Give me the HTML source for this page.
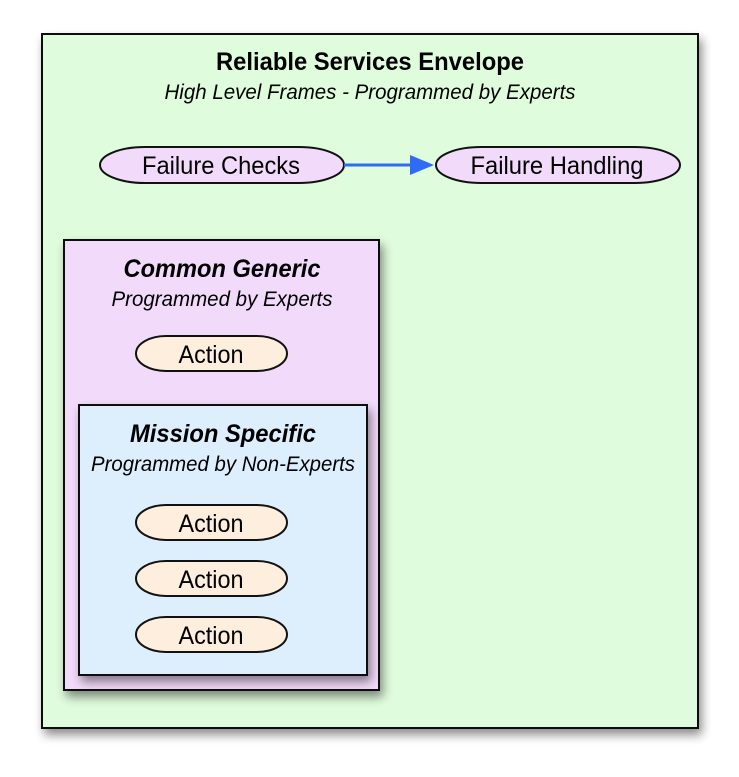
<!DOCTYPE html>
<html><head><meta charset="utf-8"><style>html,body{margin:0;padding:0;background:#fff;width:739px;height:777px;overflow:hidden}</style></head>
<body>
<svg width="739" height="777" xmlns="http://www.w3.org/2000/svg" font-family="Liberation Sans, sans-serif">
<defs>
<filter id="sh" x="-10%" y="-10%" width="130%" height="130%"><feGaussianBlur in="SourceAlpha" stdDeviation="5"/><feOffset dx="3" dy="6"/><feComponentTransfer><feFuncA type="linear" slope="0.45"/></feComponentTransfer><feMerge><feMergeNode/><feMergeNode in="SourceGraphic"/></feMerge></filter>
</defs>
<rect x="42" y="34" width="656" height="694" fill="#dffcdc" stroke="#111" stroke-width="2" filter="url(#sh)"/>
<text x="370" y="70" text-anchor="middle" font-size="25" font-weight="bold" textLength="308" lengthAdjust="spacingAndGlyphs">Reliable Services Envelope</text>
<text x="370" y="99" text-anchor="middle" font-size="21" font-style="italic" textLength="411" lengthAdjust="spacingAndGlyphs">High Level Frames - Programmed by Experts</text>
<rect x="100" y="147" width="244" height="36" rx="45" ry="18" fill="#f2dafa" stroke="#111" stroke-width="2"/>
<text x="221" y="174" text-anchor="middle" font-size="25" textLength="158" lengthAdjust="spacingAndGlyphs">Failure Checks</text>
<rect x="436" y="147" width="244" height="36" rx="45" ry="18" fill="#f2dafa" stroke="#111" stroke-width="2"/>
<text x="557" y="174" text-anchor="middle" font-size="25" textLength="173" lengthAdjust="spacingAndGlyphs">Failure Handling</text>
<line x1="344" y1="165" x2="412" y2="165" stroke="#2f6bf5" stroke-width="3"/>
<polygon points="410,155 434,165 410,175" fill="#2f6bf5"/>
<rect x="64" y="240" width="315" height="450" fill="#f2dafa" stroke="#111" stroke-width="2" filter="url(#sh)"/>
<text x="222" y="277" text-anchor="middle" font-size="25" font-weight="bold" font-style="italic" textLength="197" lengthAdjust="spacingAndGlyphs">Common Generic</text>
<text x="222" y="306" text-anchor="middle" font-size="21" font-style="italic" textLength="221" lengthAdjust="spacingAndGlyphs">Programmed by Experts</text>
<g fill="#fdeedd" stroke="#111" stroke-width="2">
<rect x="136" y="336" width="151" height="35" rx="30" ry="17.5"/>
<rect x="136" y="505" width="151" height="35" rx="30" ry="17.5"/>
<rect x="136" y="561" width="151" height="35" rx="30" ry="17.5"/>
<rect x="136" y="617" width="151" height="35" rx="30" ry="17.5"/>
</g>
<text x="211" y="363" text-anchor="middle" font-size="25" textLength="65" lengthAdjust="spacingAndGlyphs">Action</text>
<rect x="79" y="405" width="288" height="270" fill="#ddeefd" stroke="#111" stroke-width="2" filter="url(#sh)"/>
<text x="223" y="442" text-anchor="middle" font-size="25" font-weight="bold" font-style="italic" textLength="186" lengthAdjust="spacingAndGlyphs">Mission Specific</text>
<text x="223" y="471" text-anchor="middle" font-size="21" font-style="italic" textLength="264" lengthAdjust="spacingAndGlyphs">Programmed by Non-Experts</text>
<g fill="#fdeedd" stroke="#111" stroke-width="2">
<rect x="136" y="505" width="151" height="35" rx="30" ry="17.5"/>
<rect x="136" y="561" width="151" height="35" rx="30" ry="17.5"/>
<rect x="136" y="617" width="151" height="35" rx="30" ry="17.5"/>
</g>
<text x="211" y="532" text-anchor="middle" font-size="25" textLength="65" lengthAdjust="spacingAndGlyphs">Action</text>
<text x="211" y="588" text-anchor="middle" font-size="25" textLength="65" lengthAdjust="spacingAndGlyphs">Action</text>
<text x="211" y="644" text-anchor="middle" font-size="25" textLength="65" lengthAdjust="spacingAndGlyphs">Action</text>
</svg>
</body></html>
